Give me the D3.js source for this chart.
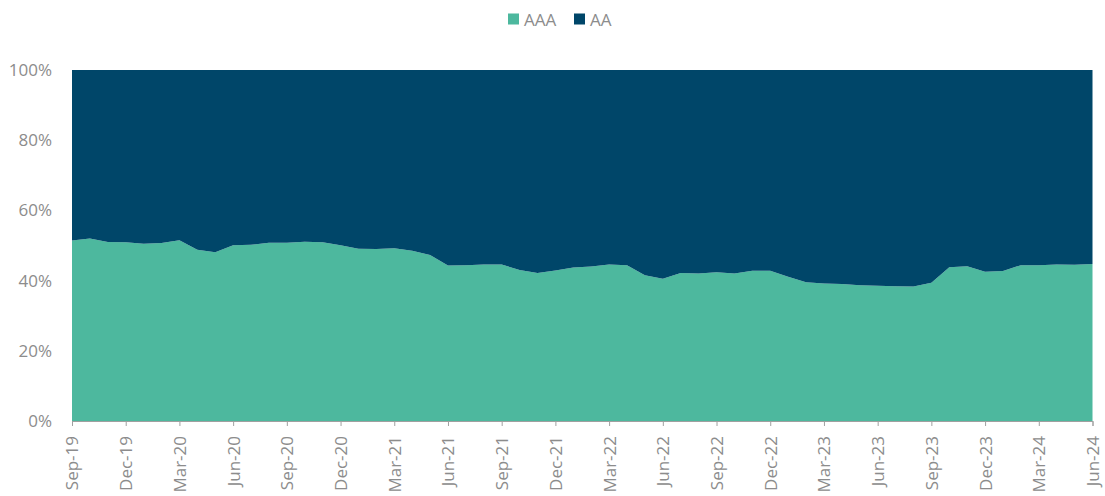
<!DOCTYPE html>
<html>
<head>
<meta charset="utf-8">
<script src="https://cdn.jsdelivr.net/npm/d3@7"></script>
<style>
  body { margin: 0; background: #fff; }
  text { font-family: "Open Sans", sans-serif; fill: #8c8c8c; }
</style>
</head>
<body>
<script>
// monthly categories, Sep-19 .. Jun-24
const months = ["Sep-19","Oct-19","Nov-19","Dec-19","Jan-20","Feb-20","Mar-20","Apr-20","May-20","Jun-20",
  "Jul-20","Aug-20","Sep-20","Oct-20","Nov-20","Dec-20","Jan-21","Feb-21","Mar-21","Apr-21",
  "May-21","Jun-21","Jul-21","Aug-21","Sep-21","Oct-21","Nov-21","Dec-21","Jan-22","Feb-22",
  "Mar-22","Apr-22","May-22","Jun-22","Jul-22","Aug-22","Sep-22","Oct-22","Nov-22","Dec-22",
  "Jan-23","Feb-23","Mar-23","Apr-23","May-23","Jun-23","Jul-23","Aug-23","Sep-23","Oct-23",
  "Nov-23","Dec-23","Jan-24","Feb-24","Mar-24","Apr-24","May-24","Jun-24"];

// share of AAA (%)
const aaa = [51.4,52.0,51.0,50.9,50.5,50.7,51.5,48.8,48.1,50.1,
  50.2,50.8,50.8,51.1,50.9,50.1,49.1,49.0,49.2,48.5,
  47.3,44.3,44.4,44.6,44.6,43.0,42.2,42.9,43.7,44.0,
  44.6,44.4,41.5,40.5,42.2,42.0,42.4,42.0,42.8,42.8,
  41.1,39.5,39.2,39.0,38.7,38.5,38.4,38.3,39.4,43.8,
  44.1,42.5,42.7,44.4,44.4,44.6,44.5,44.7];

// share of AA (%)
const aa = [48.6,48.0,49.0,49.1,49.5,49.3,48.5,51.2,51.9,49.9,
  49.8,49.2,49.2,48.9,49.1,49.9,50.9,51.0,50.8,51.5,
  52.7,55.7,55.6,55.4,55.4,57.0,57.8,57.1,56.3,56.0,
  55.4,55.6,58.5,59.5,57.8,58.0,57.6,58.0,57.2,57.2,
  58.9,60.5,60.8,61.0,61.3,61.5,61.6,61.7,60.6,56.2,
  55.9,57.5,57.3,55.6,55.6,55.4,55.5,55.3];

const keys = ["AAA", "AA"];
const colors = ["#4db89e", "#004669"];
const yTicks = [0, 0.2, 0.4, 0.6, 0.8, 1];

var margin = {top: 70, right: 12, bottom: 75, left: 72},
    width = 1105 - margin.left - margin.right,
    height = 496 - margin.top - margin.bottom;

const svg = d3.select("body").append("svg")
    .attr("width", 1105)
    .attr("height", 496);

const g = svg.append("g")
    .attr("transform", `translate(${margin.left},${margin.top})`);

const data = months.map((m, i) => ({month: m, AAA: aaa[i], AA: aa[i]}));

const series = d3.stack().keys(keys).offset(d3.stackOffsetExpand)(data);

const x = d3.scalePoint().domain(months).range([0, width - 0.5]);
const y = d3.scaleLinear().domain([0, 1]).range([height, 0]);
const color = d3.scaleOrdinal().domain(keys).range(colors);

const area = d3.area()
    .x(d => x(d.data.month))
    .y0(d => y(d[0]))
    .y1(d => y(d[1]));

g.selectAll("path.area")
  .data(series)
  .enter().append("path")
    .attr("class", "area")
    .attr("fill", d => color(d.key))
    .attr("d", area);

// y axis (labels only)
const yAxis = g.append("g")
    .call(d3.axisLeft(y).tickValues(yTicks).tickFormat(d3.format(".0%")).tickSize(0).tickPadding(20));
yAxis.select(".domain").remove();
yAxis.selectAll("text").style("font-size", "17px").style("fill", "#8c8c8c");

// x axis
const xAxis = g.append("g")
    .attr("transform", `translate(0,${height})`)
    .call(d3.axisBottom(x).tickValues(months.filter((d, i) => i % 3 === 0)).tickSize(5));
xAxis.select(".domain").attr("stroke", "#a0a0a0");
xAxis.selectAll(".tick line").attr("stroke", "#a0a0a0");
xAxis.selectAll("text")
    .style("font-size", "17px")
    .style("fill", "#8c8c8c")
    .style("text-anchor", "end")
    .attr("transform", "rotate(-90)")
    .attr("x", -15)
    .attr("y", 0)
    .attr("dy", "0.35em");

// legend
const legend = svg.append("g");
const legendX = [508, 574];
keys.forEach((k, i) => {
  legend.append("rect")
    .attr("x", legendX[i])
    .attr("y", 13.5)
    .attr("width", 11)
    .attr("height", 11)
    .attr("fill", color(k));
  legend.append("text")
    .attr("x", legendX[i] + 16)
    .attr("y", 25.5)
    .style("font-size", "17px")
    .text(k);
});
</script>
</body>
</html>
